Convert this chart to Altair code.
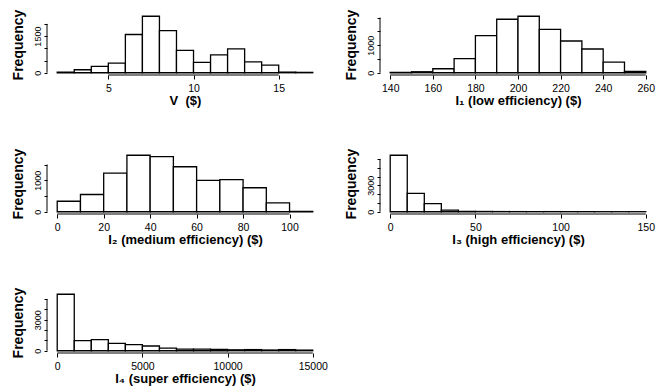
import altair as alt
import pandas as pd

FONT = "Liberation Sans"

# ---- data ----
v_starts = [2, 3, 4, 5, 6, 7, 8, 9, 10, 11, 12, 13, 14, 15, 16]
v_counts = [20, 122, 258, 395, 1565, 2313, 1728, 912, 422, 735, 980, 449, 313, 25, 15]
v_width = 1
v_xticks = [5, 10, 15]
v_yticks = [0, 500, 1000, 1500, 2000]
v_ylabels = [0, 1500]

i1_starts = [140, 150, 160, 170, 180, 190, 200, 210, 220, 230, 240, 250]
i1_counts = [8, 36, 145, 509, 1345, 1939, 2048, 1576, 1151, 861, 388, 48]
i1_width = 10
i1_xticks = [140, 160, 180, 200, 220, 240, 260]
i1_yticks = [0, 500, 1000, 1500, 2000]
i1_ylabels = [0, 1000]

i2_starts = [0, 10, 20, 30, 40, 50, 60, 70, 80, 90, 100]
i2_counts = [333, 548, 1226, 1796, 1753, 1430, 1000, 1021, 763, 280, 8]
i2_width = 10
i2_xticks = [0, 20, 40, 60, 80, 100]
i2_yticks = [0, 500, 1000, 1500]
i2_ylabels = [0, 1000]

i3_starts = [0, 10, 20, 30, 40, 50, 60, 70, 80, 90, 100, 110, 120, 130, 140]
i3_counts = [6420, 2077, 923, 192, 50, 30, 20, 15, 12, 15, 10, 8, 5, 6, 5]
i3_width = 10
i3_xticks = [0, 50, 100, 150]
i3_yticks = [0, 1000, 2000, 3000, 4000, 5000, 6000]
i3_ylabels = [0, 3000]

i4_starts = [0, 1000, 2000, 3000, 4000, 5000, 6000, 7000, 8000, 9000,
             10000, 11000, 12000, 13000, 14000]
i4_counts = [5450, 980, 1078, 719, 588, 457, 261, 163, 150, 130, 90, 110, 70, 110, 60]
i4_width = 1000
i4_xticks = [0, 5000, 10000, 15000]
i4_yticks = [0, 1000, 2000, 3000, 4000, 5000]
i4_ylabels = [0, 3000]

titles = [
    "V\u00a0\u00a0($)",
    "I\u2081 (low efficiency) ($)",
    "I\u2082 (medium efficiency) ($)",
    "I\u2083 (high efficiency) ($)",
    "I\u2084 (super efficiency) ($)",
]

W, H = 276, 61


def panel(starts, width, counts, xticks, yticks, ylabels, xtitle):
    df = pd.DataFrame({
        "x": starts,
        "x2": [s + width for s in starts],
        "count": counts,
        "base": [0] * len(starts),
    })
    lo, hi = starts[0], starts[-1] + width
    pad = 0.04 * (hi - lo)
    xs = alt.Scale(domain=[lo - pad, hi + pad], nice=False, zero=False)
    m = max(counts)
    ys = alt.Scale(domain=[-0.04 * m, 1.04 * m], nice=False, zero=False)

    lab_list = "[" + ",".join(str(v) for v in ylabels) + "]"
    xaxis = alt.Axis(
        values=xticks, format="d", domain=False, grid=False,
        tickSize=4, tickColor="black", tickWidth=1,
        labelFont=FONT, labelFontSize=10.5, labelColor="black",
        labelPadding=4, labelFlush=False,
        title=xtitle, titleFont=FONT, titleFontSize=13,
        titleFontWeight="bold", titleColor="black", titlePadding=1,
    )
    yaxis = alt.Axis(
        values=yticks, domain=False, grid=False,
        tickSize=3, tickColor="black", tickWidth=1,
        labelExpr="indexof(" + lab_list + ", datum.value) >= 0 ? toString(datum.value) : ''",
        labelAngle=270, labelAlign="center", labelBaseline="bottom",
        labelFont=FONT, labelFontSize=9, labelColor="black",
        labelPadding=2, labelFlush=False, labelOverlap=False,
        title="Frequency", titleFont=FONT, titleFontSize=14,
        titleFontWeight="bold", titleColor="black", titlePadding=8,
    )
    bars = alt.Chart(df).mark_rect(
        fill="white", stroke="black", strokeWidth=1.3
    ).encode(
        x=alt.X("x:Q", scale=xs, axis=xaxis),
        x2="x2:Q",
        y=alt.Y("count:Q", scale=ys, axis=yaxis),
        y2="base:Q",
    )

    xline = alt.Chart(pd.DataFrame({"x": [xticks[0]], "x2": [xticks[-1]]})).mark_rule(
        color="black", strokeWidth=1
    ).encode(
        x=alt.X("x:Q", scale=xs, axis=xaxis), x2="x2:Q", y=alt.value(H)
    )
    yline = alt.Chart(pd.DataFrame({"count": [yticks[0]], "base": [yticks[-1]]})).mark_rule(
        color="black", strokeWidth=1
    ).encode(
        y=alt.Y("count:Q", scale=ys, axis=yaxis), y2="base:Q", x=alt.value(0)
    )
    return alt.layer(bars, xline, yline).properties(width=W, height=H)


p1 = panel(v_starts, v_width, v_counts, v_xticks, v_yticks, v_ylabels, titles[0])
p2 = panel(i1_starts, i1_width, i1_counts, i1_xticks, i1_yticks, i1_ylabels, titles[1])
p3 = panel(i2_starts, i2_width, i2_counts, i2_xticks, i2_yticks, i2_ylabels, titles[2])
p4 = panel(i3_starts, i3_width, i3_counts, i3_xticks, i3_yticks, i3_ylabels, titles[3])
p5 = panel(i4_starts, i4_width, i4_counts, i4_xticks, i4_yticks, i4_ylabels, titles[4])

chart = alt.concat(
    p1, p2, p3, p4, p5, columns=2,
    spacing=alt.RowColnumber(row=78, column=57),
    bounds="flush",
).properties(
    padding={"left": 10, "top": 9, "right": 0, "bottom": 0},
    background="white",
).configure_view(stroke=None)

chart.save("out.html", embed_options={"renderer": "svg", "actions": False})
